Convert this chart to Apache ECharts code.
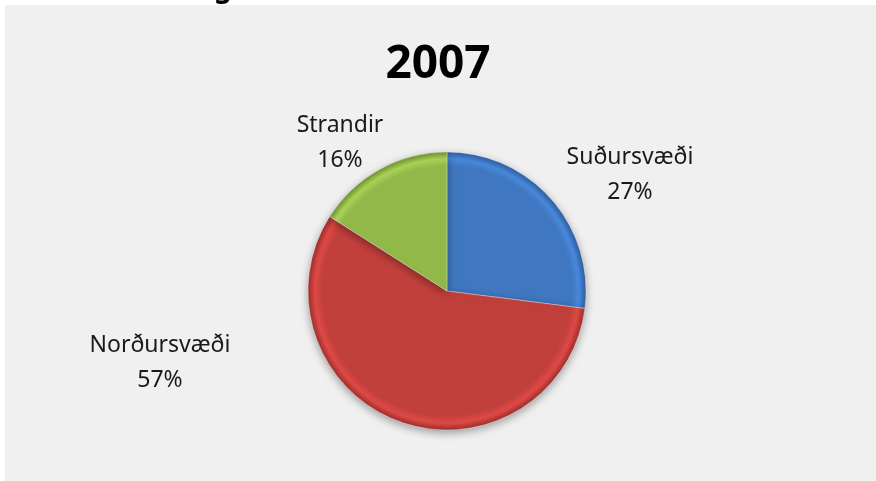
<!DOCTYPE html>
<html>
<head>
<meta charset="utf-8">
<script src="https://cdn.jsdelivr.net/npm/echarts@6/dist/echarts.min.js"></script>
<style>
  html, body { margin: 0; padding: 0; background: #fff; }
  #pie { width: 876px; height: 481px; }
</style>
</head>
<body>
<div id="pie"></div>
<script>
// 2007 pie
var names = ['Suðursvæði', 'Norðursvæði', 'Strandir'];
var values = [27, 57, 16];
var colors = ['#3f77c0', '#c2403c', '#93b84a'];
var edgeColors = ['#2f5d9c', '#9c2f2c', '#6f8f32'];

// where the labels sit (pixels), same order as names
var labelPos = [[630, 175], [160, 363], [340, 143]];

var cx = 447, cy = 291, r = 139;

function slice(i) {
    return {
        type: 'radial', x: cx, y: cy, r: r, global: true,
        colorStops: [
            {offset: 0, color: colors[i]},
            {offset: 0.9, color: colors[i]},
            {offset: 0.95, color: echarts.color.lift(colors[i], -0.15)},
            {offset: 1, color: edgeColors[i]}
        ]
    };
}

var pie = echarts.init(document.getElementById('pie'));
pie.setOption({
    backgroundColor: '#ffffff',
    graphic: [
        {type: 'rect', shape: {x: 5, y: 5, width: 871, height: 476}, style: {fill: '#f0f0f0'}, z: -10},
        {type: 'text', x: 214, y: -25, style: {text: 'g', font: 'bold 28px "Noto Sans"', fill: '#000'}, z: -5}
    ],
    title: {
        text: '2007',
        left: 'center',
        top: 37,
        textStyle: {fontFamily: 'Noto Sans', fontSize: 46, fontWeight: 'bold', color: '#000'}
    },
    series: [{
        type: 'pie',
        center: [cx, cy],
        radius: r,
        startAngle: 90,
        clockwise: true,
        avoidLabelOverlap: false,
        animation: false,
        label: {
            show: true,
            formatter: '{b}\n{d}%',
            fontFamily: 'Noto Sans',
            fontSize: 23,
            lineHeight: 35,
            color: '#1a1a1a',
            align: 'center'
        },
        labelLine: {show: false},
        labelLayout: function (p) {
            var pos = labelPos[p.dataIndex];
            return {x: pos[0], y: pos[1], align: 'center', verticalAlign: 'middle'};
        },
        itemStyle: {
            borderColor: 'rgba(255,255,255,0.35)',
            borderWidth: 1,
            shadowBlur: 8,
            shadowOffsetY: 3,
            shadowColor: 'rgba(0,0,0,0.35)'
        },
        data: names.map(function (n, i) {
            return {name: n, value: values[i], itemStyle: {color: slice(i)}};
        })
    }]
});
</script>
</body>
</html>
